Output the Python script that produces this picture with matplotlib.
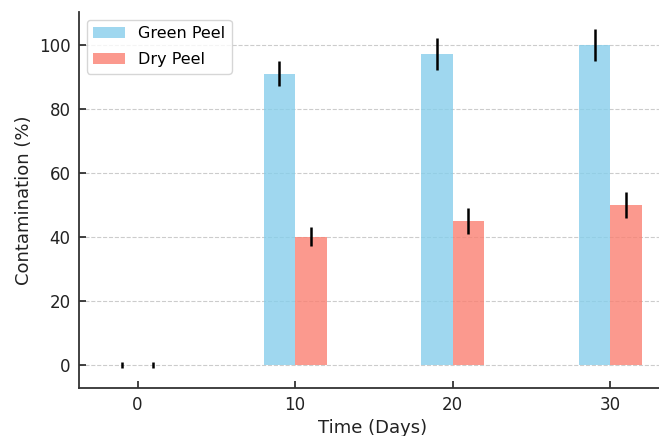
import matplotlib
matplotlib.use("Agg")
import matplotlib.pyplot as plt
import numpy as np

days = [0, 10, 20, 30]
green_peel = [0, 91, 97, 100]
green_err = [1, 4, 5, 5]
dry_peel = [0, 40, 45, 50]
dry_err = [1, 3, 4, 4]

fig = plt.figure(figsize=(6.59, 4.36), dpi=100)
ax = fig.add_axes([79/659, 48/436, 588/659, 376.3/436])

x = np.array(days, dtype=float)
w = 2
ax.bar(x - w/2, green_peel, w, yerr=green_err, color='skyblue', alpha=0.8,
       label='Green Peel', error_kw=dict(ecolor='black', elinewidth=1.8, capsize=0))
ax.bar(x + w/2, dry_peel, w, yerr=dry_err, color='salmon', alpha=0.8,
       label='Dry Peel', error_kw=dict(ecolor='black', elinewidth=1.8, capsize=0))

ax.set_xlim(-3.72, 33.6)
ax.set_ylim(-7.2, 110.3)
ax.set_xticks(days)
ax.set_xlabel('Time (Days)', fontsize=13, color='#222222', labelpad=3)
ax.set_ylabel('Contamination (%)', fontsize=13, color='#222222')
ax.tick_params(labelsize=12, colors='#222222', direction='in', length=5, width=1.2, pad=6)
ax.yaxis.grid(True, linestyle='--', color='#cccccc', linewidth=0.8)
ax.set_axisbelow(True)
for s in ['top', 'right']:
    ax.spines[s].set_visible(False)
for s in ['left', 'bottom']:
    ax.spines[s].set_linewidth(1.3)
    ax.spines[s].set_color('#333333')
ax.legend(loc='upper left', fontsize=11.5, frameon=True, labelspacing=0.7)

fig.savefig('out.png', dpi=100)
